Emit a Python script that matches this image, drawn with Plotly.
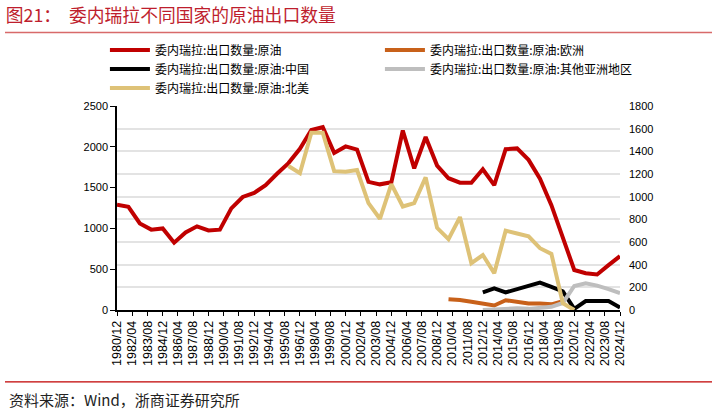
import plotly.graph_objects as go

# ---------------- data ----------------
years_total = list(range(1980, 2025))
total_exports = [1290, 1265, 1060, 985, 1000, 825, 950, 1025, 975, 985,
                 1245, 1385, 1435, 1530, 1670, 1800, 1975, 2205, 2240, 1925,
                 2005, 1965, 1570, 1540, 1565, 2200, 1735, 2120, 1770, 1615,
                 1560, 1560, 1725, 1530, 1970, 1980, 1840, 1610, 1285, 875,
                 490, 450, 435, 550, 660]

years_europe = list(range(2009, 2020))
europe = [95, 88, 72, 57, 40, 86, 72, 57, 57, 50, 78]

years_china = list(range(2012, 2025))
china = [155, 190, 155, 183, 213, 242, 205, 165, 10, 79, 79, 79, 22]

years_asia = list(range(2012, 2025))
other_asia = [0, 4, 5, 15, 10, 18, 28, 62, 212, 235, 215, 185, 150]

years_na = list(range(1995, 2021))
north_america = [1270, 1207, 1565, 1565, 1225, 1220, 1235, 943, 805, 1110,
                 913, 943, 1170, 725, 625, 820, 413, 485, 325, 700,
                 675, 650, 545, 495, 60, 0]

tick_labels = ["1980/12", "1982/04", "1983/08", "1984/12", "1986/04", "1987/08",
               "1988/12", "1990/04", "1991/08", "1992/12", "1994/04", "1995/08",
               "1996/12", "1998/04", "1999/08", "2000/12", "2002/04", "2003/08",
               "2004/12", "2006/04", "2007/08", "2008/12", "2010/04", "2011/08",
               "2012/12", "2014/04", "2015/08", "2016/12", "2018/04", "2019/08",
               "2020/12", "2022/04", "2023/08", "2024/12"]

names = ["委内瑞拉:出口数量:原油", "委内瑞拉:出口数量:原油:欧洲",
         "委内瑞拉:出口数量:原油:中国", "委内瑞拉:出口数量:原油:其他亚洲地区",
         "委内瑞拉:出口数量:原油:北美"]

# ---------------- helpers ----------------
def to_dates(yrs):
    return [f"{y}-12-01" for y in yrs]

tick_vals = [lab.replace("/", "-") + "-01" for lab in tick_labels]

CJK = "Noto Sans CJK SC"
LAT = "Liberation Sans, Arial, sans-serif"
LW = 4

fig = go.Figure()
fig.add_trace(go.Scatter(x=to_dates(years_total), y=total_exports, name=names[0],
                         mode="lines", line=dict(color="#C00000", width=LW), yaxis="y"))
fig.add_trace(go.Scatter(x=to_dates(years_europe), y=europe, name=names[1],
                         mode="lines", line=dict(color="#C8611A", width=LW), yaxis="y2"))
fig.add_trace(go.Scatter(x=to_dates(years_china), y=china, name=names[2],
                         mode="lines", line=dict(color="#000000", width=LW), yaxis="y2"))
fig.add_trace(go.Scatter(x=to_dates(years_asia), y=other_asia, name=names[3],
                         mode="lines", line=dict(color="#BEBEBE", width=LW), yaxis="y2"))
fig.add_trace(go.Scatter(x=to_dates(years_na), y=north_america, name=names[4],
                         mode="lines", line=dict(color="#DEC277", width=LW), yaxis="y2"))

fig.update_layout(
    width=717, height=415,
    margin=dict(l=117, r=97, t=106, b=105, autoexpand=False),
    paper_bgcolor="white", plot_bgcolor="white",
    showlegend=True,
    title=dict(text="图21：  委内瑞拉不同国家的原油出口数量", xref="container", yref="container",
               x=0.008, xanchor="left", y=1 - 16 / 415, yanchor="middle",
               font=dict(family=CJK, size=17.8, color="#BE1E2D")),
    legend=dict(orientation="h", x=-0.024, xanchor="left", y=1.345, yanchor="top",
                entrywidth=220, entrywidthmode="pixels", tracegroupgap=0, itemwidth=40,
                font=dict(family=CJK, size=12, color="#000000"),
                bgcolor="rgba(0,0,0,0)"),
    xaxis=dict(type="date", range=["1980-12-01", "2024-12-01"],
               tickmode="array", tickvals=tick_vals, ticktext=tick_labels,
               tickangle=-90, tickfont=dict(family=LAT, size=12.5, color="#000"),
               showline=True, linecolor="#000", linewidth=1.5,
               ticks="outside", ticklen=4, tickwidth=1.2, tickcolor="#000",
               showgrid=False, zeroline=False),
    yaxis=dict(range=[0, 2500], dtick=500, tickmode="linear",
               tickfont=dict(family=LAT, size=11, color="#000"),
               showline=True, linecolor="#000", linewidth=1.5,
               ticks="outside", ticklen=5, tickwidth=1.2, tickcolor="#000",
               showgrid=False, zeroline=False),
    yaxis2=dict(range=[0, 1800], dtick=200, tickmode="linear", overlaying="y", side="right",
                tickfont=dict(family=LAT, size=11, color="#000"),
                showline=False, ticks="", ticklabelstandoff=8,
                showgrid=True, gridcolor="#E3E3E3", gridwidth=1.5, zeroline=False),
    shapes=[
        dict(type="line", xref="paper", yref="paper",
             x0=-112 / 503, x1=(712 - 117) / 503, y0=(310 - 32) / 204.3, y1=(310 - 32) / 204.3,
             line=dict(color="#D86A6A", width=1.5)),
        dict(type="line", xref="paper", yref="paper",
             x0=-112 / 503, x1=(712 - 117) / 503, y0=(310 - 382) / 204.3, y1=(310 - 382) / 204.3,
             line=dict(color="#C00000", width=1.2)),
    ],
    annotations=[
        dict(text="资料来源：Wind，浙商证券研究所", xref="paper", yref="paper",
             x=-110 / 503, xanchor="left", y=(310 - 400) / 204.3, yanchor="middle",
             showarrow=False, font=dict(family=CJK, size=15, color="#222222")),
    ],
)

fig.write_html("out.html", config={"displayModeBar": False},
               post_script="document.body.style.margin='0px';")
